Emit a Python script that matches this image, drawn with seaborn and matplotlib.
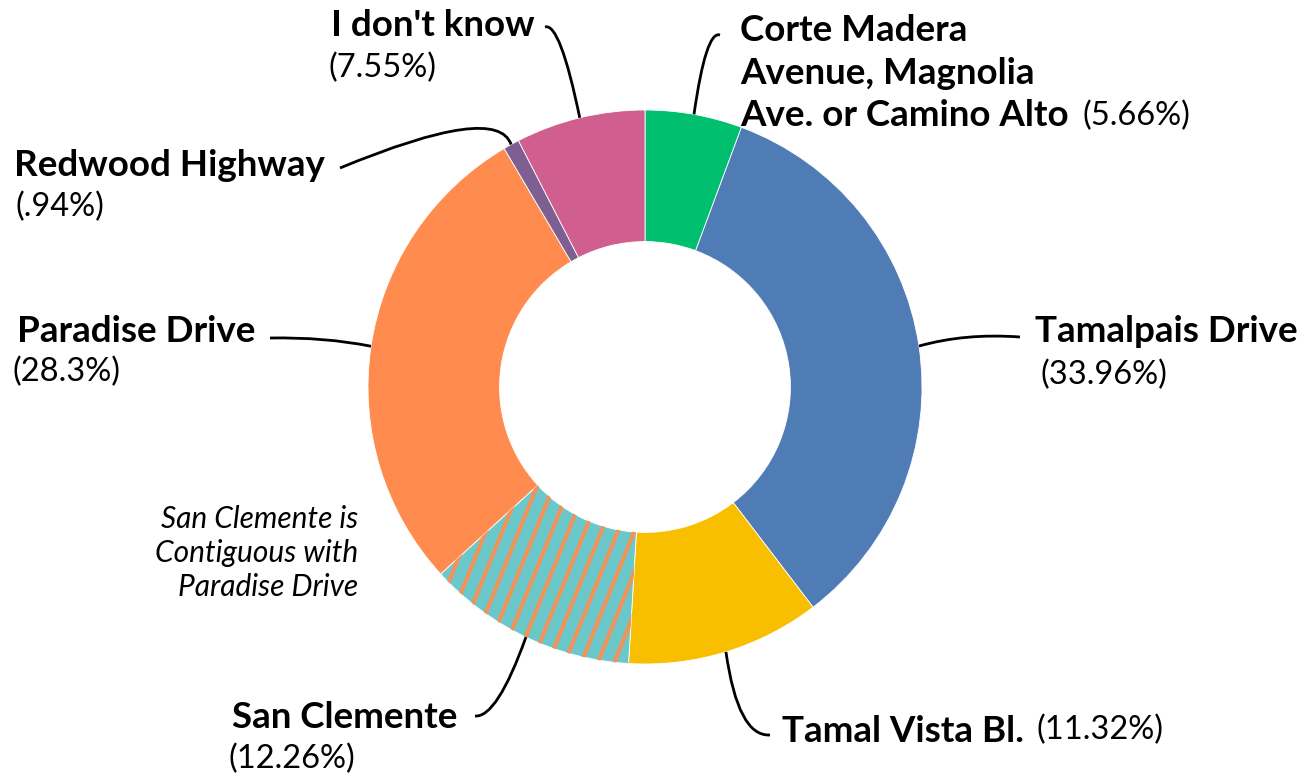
import numpy as np
import matplotlib
matplotlib.use("Agg")
import matplotlib.pyplot as plt
import seaborn as sns
from matplotlib.path import Path
from matplotlib.patches import PathPatch

# Data (clockwise from 12 o'clock)
labels = ["Corte Madera\nAvenue, Magnolia\nAve. or Camino Alto", "Tamalpais Drive", "Tamal Vista Bl.",
          "San Clemente", "Paradise Drive", "Redwood Highway", "I don't know"]
pct_text = ["(5.66%)", "(33.96%)", "(11.32%)", "(12.26%)", "(28.3%)", "(.94%)", "(7.55%)"]
shares = [5.66, 33.96, 11.32, 12.26, 28.3, 0.94, 7.55]
colors = ["#00BF6F", "#507CB6", "#F8BE00", "#6AC8CB", "#FF8B4F", "#7D5F91", "#D05E8E"]
stripe_color = "#F0935A"

sns.set_theme(style="white")
plt.rcParams["font.family"] = ["Lato", "DejaVu Sans"]

W, H = 1308, 776
fig = plt.figure(figsize=(W / 100, H / 100), dpi=100)
ax = fig.add_axes([0, 0, 1, 1])

cx, cy_img, R = 645, 387, 277
cy = H - cy_img
ring = 0.475

wedges, _ = ax.pie(shares, colors=colors, startangle=90, counterclock=False,
                   center=(cx, cy), radius=R, frame=True,
                   wedgeprops=dict(width=R * ring, edgecolor="white", linewidth=0.6))
ax.set_xlim(0, W)
ax.set_ylim(0, H)
ax.set_aspect("equal")
ax.axis("off")

# orange stripes on San Clemente wedge
sc = wedges[3]
ang = np.deg2rad(68)
d = np.array([np.cos(ang), np.sin(ang)])
for x0 in np.arange(300, 800, 16.5):
    line, = ax.plot([x0, x0 + d[0] * 900], [cy - 400, cy - 400 + d[1] * 900],
                    color=stripe_color, lw=3.0, solid_capstyle="butt", zorder=3)
    line.set_clip_path(sc)

# leader lines: from wedge mid-angle on outer edge to label
cum = np.cumsum([0] + shares[:-1])
mids = 90 - (cum + np.array(shares) / 2) * 3.6
anchors = [(cx + R * np.cos(np.deg2rad(a)), cy + R * np.sin(np.deg2rad(a))) for a in mids]

# (control point, end point) in image pixel coords
leader = [((706, 30), (720, 35)),
          ((965, 333), (1020, 337)),
          ((738, 737), (770, 735)),
          ((497, 718), (475, 716)),
          ((325, 337), (270, 338)),
          ((497, 103), (340, 168)),
          ((560, 22), (545, 27))]
for (ax0, ay0), (ctrl, end) in zip(anchors, leader):
    verts = [(ax0, ay0), (ctrl[0], H - ctrl[1]), (end[0], H - end[1])]
    path = Path(verts, [Path.MOVETO, Path.CURVE3, Path.CURVE3])
    ax.add_patch(PathPatch(path, fill=False, lw=2.0, color="black", zorder=4))

bold = dict(fontsize=26.5, fontweight="bold", color="black")
norm = dict(fontsize=23.5, color="black")


def t(x, y, s, ha, style, **kw):
    ax.text(x, H - y, s, ha=ha, va="center", **style, **kw)


t(740, 73, labels[0], "left", bold, linespacing=1.36)
t(1082, 116, pct_text[0], "left", norm)
t(1035, 332, labels[1], "left", bold)
t(1040, 375, pct_text[1], "left", norm)
t(782, 732, labels[2], "left", bold)
t(1037, 730, pct_text[2], "left", norm)
t(457, 717, labels[3], "right", bold)
t(292, 759, pct_text[3], "center", norm)
t(255, 332, labels[4], "right", bold)
t(67, 372, pct_text[4], "center", norm)
t(325, 165, labels[5], "right", bold)
t(60, 207, pct_text[5], "center", norm)
t(535, 25, labels[6], "right", bold)
t(382, 68, pct_text[6], "center", norm)

t(358, 553, "San Clemente is\nContiguous with\nParadise Drive", "right",
  dict(fontsize=21.5, fontstyle="italic", color="black"), linespacing=1.25)

fig.savefig("out.png", dpi=100)
